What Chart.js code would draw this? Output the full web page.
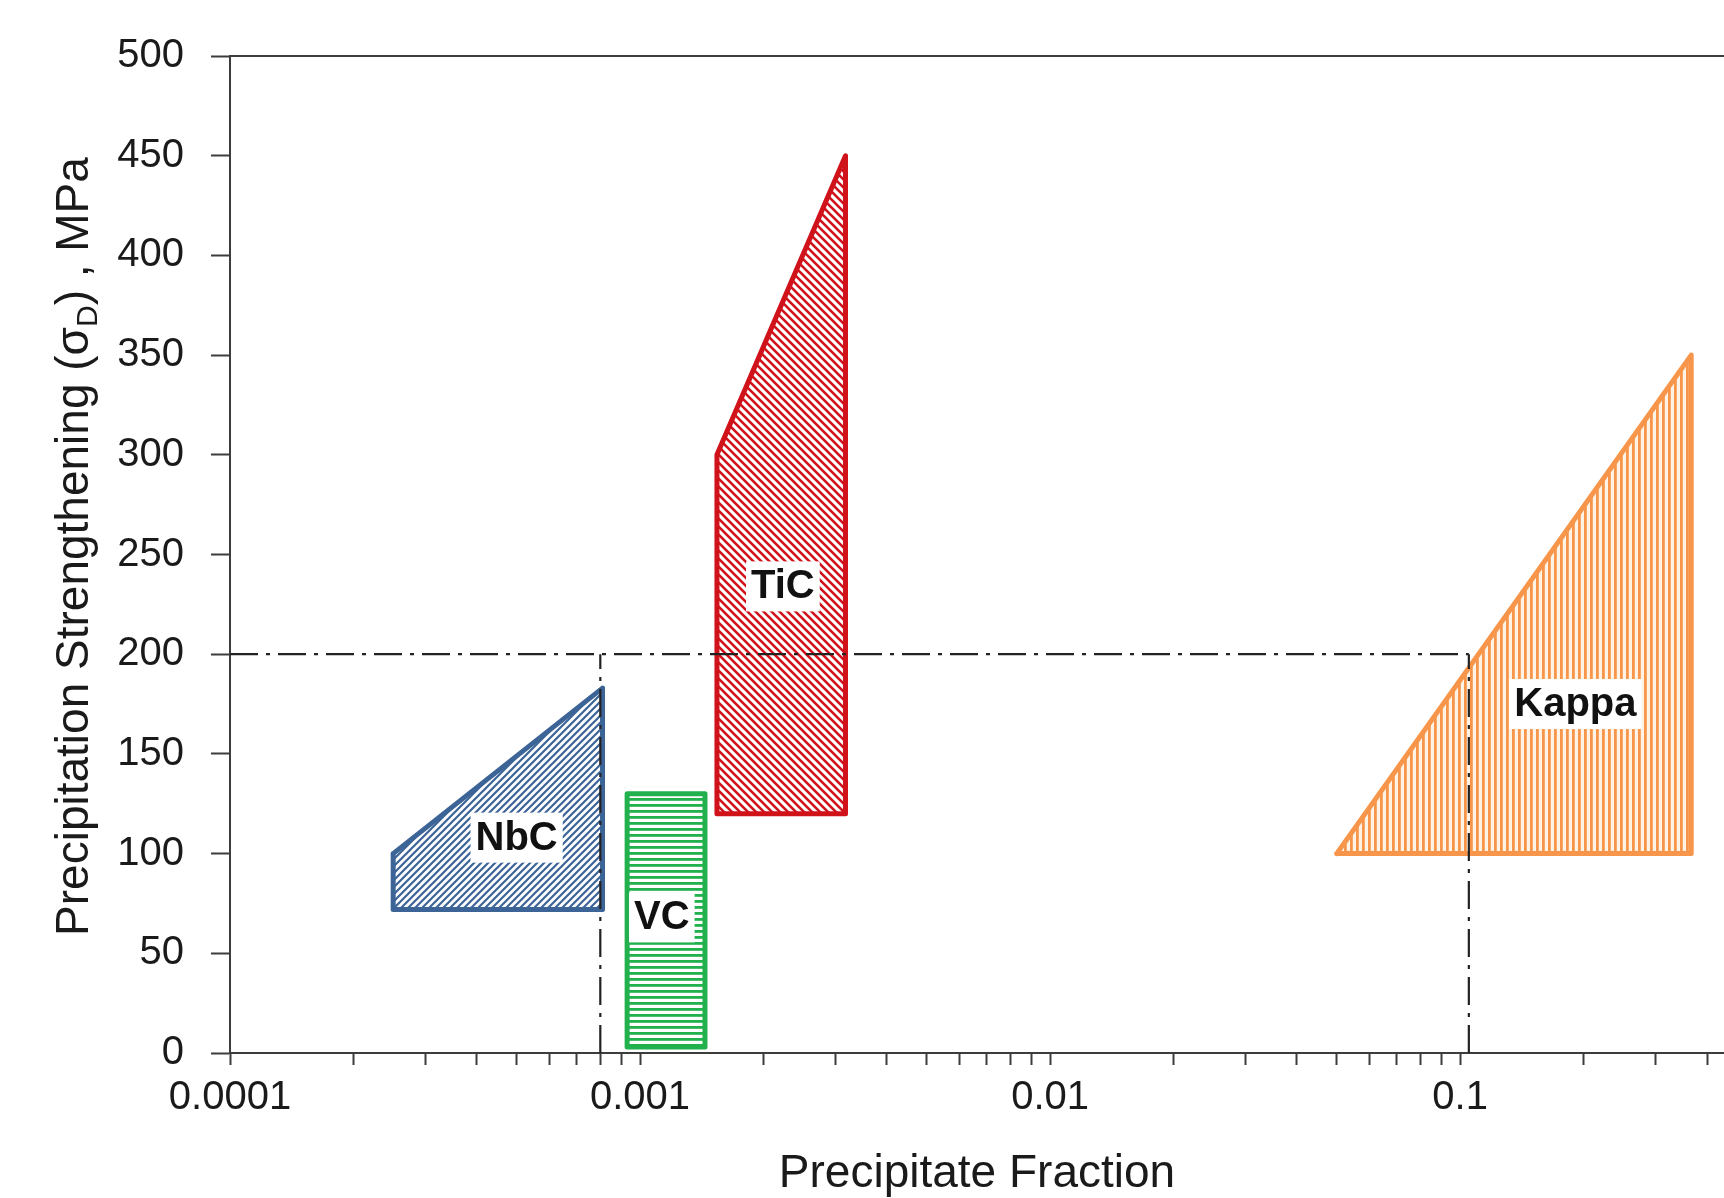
<!DOCTYPE html>
<html>
<head>
<meta charset="utf-8">
<script src="https://cdn.jsdelivr.net/npm/chart.js@4.4.1/dist/chart.umd.min.js"></script>
<style>
  html, body { margin: 0; padding: 0; background: #ffffff; }
  #wrap { width: 1724px; height: 1198px; position: relative; }
</style>
</head>
<body>
<div id="wrap"><canvas id="c"></canvas></div>
<script>
// ---------------- data ----------------
const nbcX   = [0.00025, 0.00025, 0.00081, 0.00081, 0.00025];
const nbcY   = [100, 72, 72, 183, 100];
const vcX    = [0.00093, 0.00093, 0.00144, 0.00144, 0.00093];
const vcY    = [130, 3, 3, 130, 130];
const ticX   = [0.00154, 0.00154, 0.00317, 0.00317, 0.00154];
const ticY   = [300, 120, 120, 450, 300];
const kappaX = [0.05, 0.366, 0.366, 0.05];
const kappaY = [100, 100, 350, 100];

const refHX  = [0.0001, 0.105];
const refHY  = [200, 200];
const refV1X = [0.0008, 0.0008];
const refV1Y = [0, 200];
const refV2X = [0.105, 0.105];
const refV2Y = [0, 200];

const labelNames = ['NbC', 'VC', 'TiC', 'Kappa'];
const labelX     = [0.0005, 0.00113, 0.00223, 0.191];
const labelY     = [108, 68, 234, 175];

const xDecades    = [0.0001, 0.001, 0.01, 0.1];
const xTickLabels = ['0.0001', '0.001', '0.01', '0.1'];
const xMin = 0.0001, xMax = 0.44;
const yMin = 0, yMax = 500, yStep = 50;

const xTitle = 'Precipitate Fraction';
const yTitleParts = ['Precipitation Strengthening (σ', 'D', ') , MPa'];

// ---------------- helpers ----------------
const pts = (xs, ys) => xs.map((x, i) => ({ x: x, y: ys[i] }));
const FONT = '"Liberation Sans", Arial, Helvetica, sans-serif';

function hatch(color, bg, kind, size, lw) {
  const c = document.createElement('canvas');
  c.width = size; c.height = size;
  const g = c.getContext('2d');
  g.fillStyle = bg; g.fillRect(0, 0, size, size);
  g.fillStyle = color; g.strokeStyle = color; g.lineWidth = lw;
  if (kind === 'v') { g.fillRect(0, 0, lw, size); }
  else if (kind === 'h') { g.fillRect(0, 0, size, lw); }
  else if (kind === '/') {
    g.beginPath();
    g.moveTo(0, size); g.lineTo(size, 0);
    g.moveTo(-size / 4, size / 4); g.lineTo(size / 4, -size / 4);
    g.moveTo(size * 3 / 4, size * 5 / 4); g.lineTo(size * 5 / 4, size * 3 / 4);
    g.stroke();
  } else {
    g.beginPath();
    g.moveTo(0, 0); g.lineTo(size, size);
    g.moveTo(-size / 4, size * 3 / 4); g.lineTo(size / 4, size * 5 / 4);
    g.moveTo(size * 3 / 4, -size / 4); g.lineTo(size * 5 / 4, size / 4);
    g.stroke();
  }
  return g.createPattern(c, 'repeat');
}

const cBlue = '#3d6497', cGreen = '#22b14c', cRed = '#d0121b', cOrange = '#f7964a';
const pNbc   = hatch(cBlue,   '#ffffff', '/', 7, 2.2);
const pVc    = hatch(cGreen,  '#ffffff', 'h', 6, 2.8);
const pTic   = hatch(cRed,    '#ffffff', '\\', 8, 2.6);
const pKappa = hatch(cOrange, '#fff3e6', 'v', 6, 2.8);

function shape(data, border, fillPat) {
  return {
    data: data, showLine: true, fill: 'shape',
    borderColor: border, backgroundColor: fillPat,
    borderWidth: 5, borderJoinStyle: 'round', borderCapStyle: 'round',
    pointRadius: 0, pointHoverRadius: 0, order: 2
  };
}
function refLine(data) {
  return {
    data: data, showLine: true, fill: false,
    borderColor: '#222222', borderWidth: 2.2,
    borderDash: [28, 8, 4, 8],
    pointRadius: 0, pointHoverRadius: 0, order: 1
  };
}

// ---------------- plugins ----------------
const labelPlugin = {
  id: 'regionLabels',
  afterDatasetsDraw(chart) {
    const ctx = chart.ctx, xs = chart.scales.x, ys = chart.scales.y;
    ctx.save();
    ctx.font = 'bold 40px ' + FONT;
    ctx.textAlign = 'center';
    ctx.textBaseline = 'middle';
    labelNames.forEach((name, i) => {
      const px = xs.getPixelForValue(labelX[i]);
      const py = ys.getPixelForValue(labelY[i]);
      const w = ctx.measureText(name).width + 10;
      const h = 50;
      ctx.fillStyle = '#ffffff';
      ctx.fillRect(px - w / 2, py - h / 2, w, h);
      ctx.fillStyle = '#111111';
      ctx.fillText(name, px, py + 1);
    });
    ctx.restore();
  }
};

const yTitlePlugin = {
  id: 'yTitleSub',
  afterDraw(chart) {
    const ctx = chart.ctx, ca = chart.chartArea;
    const big = '46px ' + FONT, small = '30px ' + FONT;
    ctx.save();
    ctx.translate(88, (ca.top + ca.bottom) / 2 - 8);
    ctx.rotate(-Math.PI / 2);
    ctx.fillStyle = '#1a1a1a';
    ctx.textBaseline = 'alphabetic';
    ctx.textAlign = 'left';
    ctx.font = big;  const w0 = ctx.measureText(yTitleParts[0]).width;
    ctx.font = small; const w1 = ctx.measureText(yTitleParts[1]).width;
    ctx.font = big;  const w2 = ctx.measureText(yTitleParts[2]).width;
    let x = -(w0 + w1 + w2) / 2;
    ctx.font = big;  ctx.fillText(yTitleParts[0], x, 0); x += w0;
    ctx.font = small; ctx.fillText(yTitleParts[1], x, 9); x += w1;
    ctx.font = big;  ctx.fillText(yTitleParts[2], x, 0);
    ctx.restore();
  }
};

// ---------------- chart ----------------
const axisColor = '#3c3c3c';
const tickColor = '#1a1a1a';

new Chart(document.getElementById('c'), {
  type: 'scatter',
  data: {
    datasets: [
      shape(pts(nbcX, nbcY), cBlue, pNbc),
      shape(pts(vcX, vcY), cGreen, pVc),
      shape(pts(ticX, ticY), cRed, pTic),
      shape(pts(kappaX, kappaY), cOrange, pKappa),
      refLine(pts(refHX, refHY)),
      refLine(pts(refV1X, refV1Y)),
      refLine(pts(refV2X, refV2Y))
    ]
  },
  options: {
    responsive: true,
    maintainAspectRatio: false,
    animation: false,
    layout: { padding: { top: 56, left: 0, right: 0, bottom: 0 } },
    plugins: { legend: { display: false }, tooltip: { enabled: false } },
    scales: {
      x: {
        type: 'logarithmic', position: 'bottom', min: xMin, max: xMax,
        afterBuildTicks(scale) {
          const t = [];
          for (let e = -4; e <= 0; e++) {
            for (let m = 1; m <= 9; m++) {
              const v = parseFloat((m * Math.pow(10, e)).toPrecision(6));
              if (v >= xMin - 1e-12 && v <= xMax) t.push({ value: v, major: m === 1 });
            }
          }
          scale.ticks = t;
        },
        afterFit(scale) { scale.height = 145; },
        ticks: {
          autoSkip: false, maxRotation: 0, minRotation: 0, padding: 9,
          color: tickColor, font: { family: FONT, size: 40 },
          callback(value) {
            const i = xDecades.findIndex(d => Math.abs(d - value) < d * 1e-6);
            return i >= 0 ? xTickLabels[i] : '';
          }
        },
        grid: { drawOnChartArea: false, drawTicks: true, tickLength: 12, tickWidth: 2, tickColor: axisColor },
        border: { display: true, color: axisColor, width: 2 },
        title: {
          display: true, text: xTitle, color: tickColor,
          font: { family: FONT, size: 46, lineHeight: 1.0 },
          padding: { top: 0, bottom: 1 }
        }
      },
      x2: {
        type: 'logarithmic', position: 'top', min: xMin, max: xMax,
        afterFit(scale) { scale.height = 0; },
        ticks: { display: false },
        grid: { drawOnChartArea: false, drawTicks: false },
        border: { display: true, color: axisColor, width: 2 }
      },
      y: {
        type: 'linear', min: yMin, max: yMax,
        afterFit(scale) { scale.width = 230; },
        ticks: {
          stepSize: yStep, padding: 27, color: tickColor,
          font: { family: FONT, size: 40 }
        },
        grid: { drawOnChartArea: false, drawTicks: true, tickLength: 19, tickWidth: 2, tickColor: axisColor },
        border: { display: true, color: axisColor, width: 2 }
      }
    }
  },
  plugins: [labelPlugin, yTitlePlugin]
});
</script>
</body>
</html>
